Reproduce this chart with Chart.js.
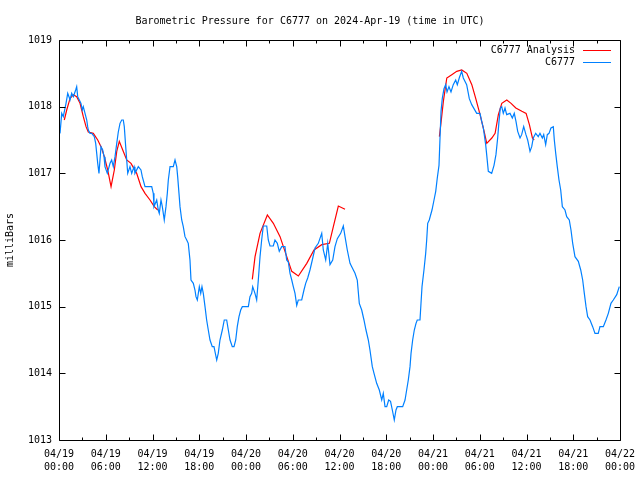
<!DOCTYPE html>
<html>
<head>
<meta charset="utf-8">
<script src="https://cdn.jsdelivr.net/npm/chart.js@4.4.1/dist/chart.umd.min.js"></script>
<style>
  body { margin: 0; background: #fff; }
  canvas { display: block; }
</style>
</head>
<body>
<canvas id="pressureChart" width="640" height="480"></canvas>
<script>
// hours since 04/19 00:00 UTC
const xTickLabels = [
  ['04/19', '00:00'], ['04/19', '06:00'], ['04/19', '12:00'], ['04/19', '18:00'],
  ['04/20', '00:00'], ['04/20', '06:00'], ['04/20', '12:00'], ['04/20', '18:00'],
  ['04/21', '00:00'], ['04/21', '06:00'], ['04/21', '12:00'], ['04/21', '18:00'],
  ['04/22', '00:00'],
];

const stationHours = [
  0.13, 0.35, 0.55, 0.90, 1.12, 1.28, 1.41, 1.63, 1.84, 2.14, 2.27, 2.40, 2.61, 2.82, 2.99, 3.12,
  3.34, 3.56, 3.68, 3.76, 3.98, 4.20, 4.53, 4.71, 4.84, 4.97, 5.13, 5.26, 5.39, 5.61, 5.78, 5.90,
  6.20, 6.55, 6.76, 6.97, 7.19, 7.41, 7.61, 7.83, 8.05, 8.25, 8.38, 8.56, 8.82, 9.11, 9.33, 9.63,
  9.75, 10.18, 10.52, 10.69, 11.04, 11.90, 12.10, 12.19, 12.54, 12.74, 12.87, 13.09, 13.26, 13.51,
  13.73, 13.90, 14.03, 14.25, 14.67, 14.89, 15.11, 15.23, 15.40, 15.53, 15.75, 15.95, 16.17, 16.39,
  16.59, 16.81, 16.94, 17.24, 17.45, 17.58, 17.75, 18.01, 18.19, 18.35, 18.52, 18.74, 18.95, 19.16,
  19.38, 19.67, 19.89, 20.24, 20.44, 20.66, 20.96, 21.21, 21.52, 21.73, 21.95, 22.24, 22.46, 22.68,
  22.88, 23.10, 23.32, 23.53, 24.30, 24.51, 24.73, 24.86, 25.15, 25.37, 25.58, 25.80, 26.01, 26.22,
  26.66, 26.86, 27.08, 27.50, 27.72, 28.02, 28.27, 28.58, 29.00, 29.22, 29.43, 29.65, 29.87, 30.07,
  30.29, 30.51, 30.71, 31.15, 31.44, 31.66, 31.92, 32.21, 32.51, 32.86, 33.28, 33.72, 33.92, 34.23,
  34.49, 34.78, 35.13, 35.42, 35.72, 36.15, 36.49, 36.71, 37.00, 37.35, 37.57, 37.99, 38.28, 38.54,
  38.85, 39.14, 39.40, 39.70, 39.91, 40.21, 40.43, 40.77, 41.11, 41.42, 41.62, 41.84, 42.06, 42.31,
  42.55, 42.78, 43.03, 43.25, 43.42, 44.11, 44.41, 44.62, 44.83, 45.05, 45.18, 45.39, 45.60, 45.82,
  45.98, 46.33, 46.46, 46.59, 46.84, 47.06, 47.19, 47.32, 47.52, 47.87, 48.13, 48.35, 48.55, 48.77,
  48.90, 49.03, 49.19, 49.41, 49.63, 49.80, 50.05, 50.31, 50.60, 50.91, 51.12, 51.37, 51.68, 51.89,
  52.32, 52.66, 52.97, 53.61, 54.03, 54.25, 54.46, 54.76, 54.89, 55.10, 55.53, 55.83, 56.08, 56.30,
  56.47, 56.64, 56.82, 57.02, 57.24, 57.46, 57.88, 58.18, 58.43, 58.65, 58.87, 59.17, 59.38, 59.64,
  59.93, 60.15, 60.45, 60.67, 60.87, 61.18, 61.51, 61.73, 62.03, 62.21, 62.46, 62.67, 62.89, 63.14,
  63.44, 63.57, 63.75, 63.95, 64.17, 64.39, 64.60, 64.94, 65.16, 65.49, 65.71, 65.93, 66.22, 66.65,
  66.96, 67.21, 67.42, 67.64, 67.85, 68.15, 68.49, 68.79, 69.21, 69.43, 69.86, 70.20, 70.50, 70.84,
  71.14, 71.58, 71.91,
];

const stationPressure = [
  1017.6, 1017.9, 1017.85, 1018.05, 1018.2, 1018.15, 1018.1, 1018.2, 1018.15, 1018.25, 1018.3, 1018.15, 1018.1, 1018.05, 1017.95, 1018.0,
  1017.9, 1017.8, 1017.7, 1017.65, 1017.6, 1017.6, 1017.55, 1017.45, 1017.3, 1017.15, 1017.0, 1017.2, 1017.4, 1017.35, 1017.25, 1017.1,
  1017.0, 1017.15, 1017.2, 1017.1, 1017.25, 1017.45, 1017.62, 1017.75, 1017.8, 1017.8, 1017.7, 1017.4, 1017.0, 1017.1, 1017.0, 1017.1,
  1017.0, 1017.1, 1017.05, 1016.95, 1016.8, 1016.8, 1016.7, 1016.5, 1016.6, 1016.45, 1016.4, 1016.6, 1016.5, 1016.3,
  1016.5, 1016.7, 1016.9, 1017.1, 1017.1, 1017.2, 1017.1, 1016.95, 1016.7, 1016.5, 1016.3, 1016.2, 1016.05, 1016.0,
  1015.95, 1015.7, 1015.4, 1015.35, 1015.25, 1015.15, 1015.1, 1015.3, 1015.2, 1015.3, 1015.2, 1015.0, 1014.8, 1014.65,
  1014.5, 1014.4, 1014.4, 1014.2, 1014.3, 1014.5, 1014.65, 1014.8, 1014.8, 1014.65, 1014.5, 1014.4, 1014.4, 1014.5,
  1014.7, 1014.85, 1014.95, 1015.0, 1015.0, 1015.15, 1015.2, 1015.3, 1015.2, 1015.1, 1015.4, 1015.75, 1016.0, 1016.21,
  1016.21, 1016.0, 1015.91, 1015.91, 1016.0, 1015.95, 1015.83, 1015.9, 1015.9, 1015.7, 1015.67, 1015.5, 1015.4, 1015.3,
  1015.2, 1015.02, 1015.1, 1015.1, 1015.25, 1015.35, 1015.43, 1015.55, 1015.7, 1015.88, 1015.95, 1016.1, 1015.85, 1015.7,
  1015.95, 1015.63, 1015.7, 1015.9, 1016.02, 1016.1, 1016.21, 1016.05, 1015.85, 1015.65, 1015.6, 1015.5, 1015.4, 1015.05,
  1014.95, 1014.8, 1014.65, 1014.5, 1014.35, 1014.1, 1014.0, 1013.85, 1013.75, 1013.6, 1013.7, 1013.5, 1013.5, 1013.6,
  1013.58, 1013.45, 1013.3, 1013.45, 1013.5, 1013.5, 1013.6, 1013.75, 1013.9, 1014.1, 1014.3, 1014.5, 1014.65, 1014.75,
  1014.8, 1014.8, 1015.05, 1015.3, 1015.55, 1015.8, 1016.0, 1016.25, 1016.3, 1016.45, 1016.6, 1016.73, 1016.93, 1017.12,
  1017.53, 1017.93, 1018.12, 1018.27, 1018.33, 1018.22, 1018.3, 1018.22, 1018.33, 1018.4, 1018.33, 1018.43, 1018.53, 1018.43,
  1018.33, 1018.12, 1018.03, 1017.9, 1017.9, 1017.78, 1017.68, 1017.43, 1017.28, 1017.03, 1017.0, 1017.12, 1017.28, 1017.53,
  1017.78, 1017.98, 1018.0, 1017.9, 1017.98, 1017.88, 1017.9, 1017.83, 1017.9, 1017.78, 1017.63, 1017.53, 1017.58, 1017.7,
  1017.58, 1017.5, 1017.33, 1017.4, 1017.53, 1017.6, 1017.55, 1017.6, 1017.53, 1017.58, 1017.43, 1017.58, 1017.6, 1017.68,
  1017.7, 1017.5, 1017.3, 1017.1, 1016.9, 1016.75, 1016.5, 1016.45, 1016.35, 1016.3, 1016.15, 1015.95, 1015.75, 1015.68,
  1015.55, 1015.4, 1015.2, 1015.0, 1014.85, 1014.8, 1014.7, 1014.6, 1014.6, 1014.7, 1014.7, 1014.8, 1014.9, 1015.05,
  1015.1, 1015.18, 1015.3,
];

// analysis runs; null marks a break between runs
const analysisHours = [
  0.68, 0.99, 1.41, 1.84, 2.27, 2.70, 3.12, 3.47, 3.76, 4.40, 4.97, 5.39, 5.82, 6.25, 6.68, 7.10,
  7.41, 7.74, 8.18, 8.69, 9.24, 9.97, 10.53, 11.04, 11.68, 12.23, 12.67,
  18.0,
  24.81, 25.16, 25.80, 26.74, 27.51, 28.37, 29.23, 29.87, 30.72, 31.80, 32.73, 33.72, 34.70, 35.21,
  35.85, 36.71,
  42.0,
  48.82, 49.0, 49.33, 49.77, 50.41, 51.05, 51.69, 52.34, 52.98, 53.49, 54.04, 54.56, 54.90, 55.55,
  55.97, 56.39, 56.83, 57.47, 58.02, 58.63, 59.40, 59.95, 60.37, 60.76, 60.98,
];

const analysisPressure = [
  1017.8, 1017.95, 1018.12, 1018.18, 1018.15, 1018.05, 1017.85, 1017.7, 1017.62, 1017.6, 1017.5, 1017.4, 1017.25, 1017.05, 1016.8, 1017.05,
  1017.33, 1017.48, 1017.35, 1017.2, 1017.15, 1017.0, 1016.8, 1016.7, 1016.6, 1016.5, 1016.45,
  null,
  1015.41, 1015.75, 1016.1, 1016.375, 1016.25, 1016.05, 1015.75, 1015.53, 1015.46, 1015.65, 1015.85, 1015.93, 1015.95, 1016.2,
  1016.51, 1016.46,
  null,
  1017.55, 1017.73, 1018.08, 1018.43, 1018.48, 1018.53, 1018.55, 1018.5, 1018.33, 1018.12, 1017.88, 1017.63, 1017.45, 1017.53,
  1017.6, 1017.88, 1018.05, 1018.1, 1018.05, 1017.98, 1017.93, 1017.9, 1017.73, 1017.53, 1017.5,
];

const FONT = '"DejaVu Sans Mono", "Liberation Mono", monospace';
Chart.defaults.font.family = FONT;
Chart.defaults.font.size = 10;
Chart.defaults.color = '#000';

const toPoints = (xs, ys) => xs.map((x, i) => ({ x: x, y: ys[i] }));

// gnuplot-like frame: box with inward ticks on all four sides, plus legend
const framePlugin = {
  id: 'frame',
  afterDraw(chart) {
    const { ctx, chartArea: a, scales: { x, y } } = chart;
    const L = Math.round(a.left) + 0.5, R = Math.round(a.right) + 0.5;
    const T = Math.round(a.top) + 0.5, B = Math.round(a.bottom) + 0.5;
    ctx.save();
    ctx.strokeStyle = '#000';
    ctx.lineWidth = 1;
    ctx.beginPath();
    ctx.rect(L, T, R - L, B - T);
    x.ticks.forEach(t => {
      const px = Math.round(x.getPixelForValue(t.value)) + 0.5;
      ctx.moveTo(px, B); ctx.lineTo(px, B - 6);
      ctx.moveTo(px, T); ctx.lineTo(px, T + 6);
      if (t.value + 3 < x.max) {
        const mx = Math.round(x.getPixelForValue(t.value + 3)) + 0.5;
        ctx.moveTo(mx, B); ctx.lineTo(mx, B - 3);
        ctx.moveTo(mx, T); ctx.lineTo(mx, T + 3);
      }
    });
    y.ticks.forEach(t => {
      const py = Math.round(y.getPixelForValue(t.value)) + 0.5;
      ctx.moveTo(L, py); ctx.lineTo(L + 6, py);
      ctx.moveTo(R, py); ctx.lineTo(R - 6, py);
    });
    ctx.stroke();

    ctx.font = '10px ' + FONT;
    ctx.fillStyle = '#000';
    ctx.textAlign = 'right';
    ctx.textBaseline = 'middle';
    chart.data.datasets.slice().reverse().forEach((ds, i) => {
      const ly = Math.round(a.top + 10 + i * 12) + 0.5;
      ctx.fillText(ds.label, a.right - 45, ly);
      ctx.strokeStyle = ds.borderColor;
      ctx.beginPath();
      ctx.moveTo(a.right - 37, ly);
      ctx.lineTo(a.right - 9, ly);
      ctx.stroke();
    });
    ctx.restore();
  },
};

new Chart(document.getElementById('pressureChart'), {
  type: 'line',
  data: {
    datasets: [
      {
        label: 'C6777',
        data: toPoints(stationHours, stationPressure),
        borderColor: '#0080FF',
        borderWidth: 1.2,
        pointRadius: 0,
        tension: 0,
      },
      {
        label: 'C6777 Analysis',
        data: toPoints(analysisHours, analysisPressure),
        borderColor: '#FF0000',
        borderWidth: 1.2,
        pointRadius: 0,
        tension: 0,
        spanGaps: false,
      },
    ],
  },
  options: {
    responsive: false,
    animation: false,
    devicePixelRatio: 1,
    layout: { padding: { top: 0, right: 20, bottom: 0, left: 0 } },
    plugins: {
      legend: { display: false },
      tooltip: { enabled: false },
      title: {
        display: true,
        text: 'Barometric Pressure for C6777 on 2024-Apr-19 (time in UTC)',
        font: { size: 10, weight: 'normal', family: FONT },
        color: '#000',
        padding: { top: 15, bottom: 13 },
      },
    },
    scales: {
      x: {
        type: 'linear',
        min: 0,
        max: 72,
        afterFit: s => { s.height = 40; s.paddingLeft = 0; s.paddingRight = 0; },
        grid: { display: false, drawTicks: false },
        border: { display: false },
        ticks: {
          stepSize: 6,
          padding: 8,
          maxRotation: 0,
          autoSkip: false,
          font: { size: 10, lineHeight: 1.3 },
          callback: (v, i) => xTickLabels[i],
        },
      },
      y: {
        min: 1013,
        max: 1019,
        afterFit: s => { s.width = 59; },
        grid: { display: false, drawTicks: false },
        border: { display: false },
        ticks: { stepSize: 1, padding: 7, callback: v => String(v) },
        title: {
          display: true,
          text: 'milliBars',
          font: { size: 10 },
          padding: { top: 4, bottom: 0 },
        },
      },
    },
  },
  plugins: [framePlugin],
});
</script>
</body>
</html>
